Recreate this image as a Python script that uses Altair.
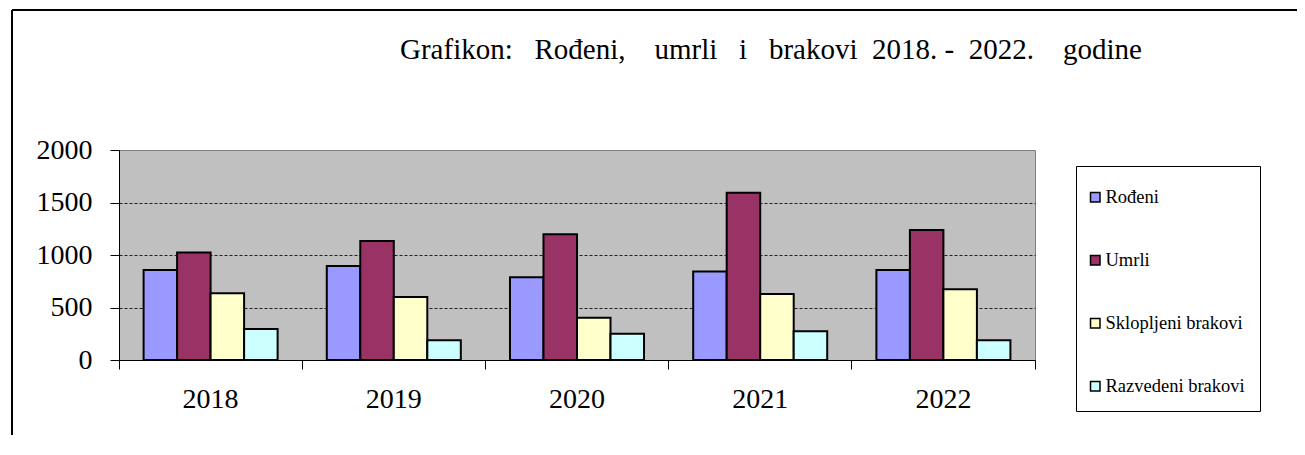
import altair as alt
import pandas as pd

years = ["2018", "2019", "2020", "2021", "2022"]
series = ["Rođeni", "Umrli", "Sklopljeni brakovi", "Razvedeni brakovi"]
rodeni = [857, 895, 787, 844, 857]
umrli = [1025, 1133, 1197, 1594, 1238]
sklopljeni = [635, 600, 403, 629, 673]
razvedeni = [295, 187, 251, 273, 187]
colors = ["#9999FF", "#993366", "#FFFFCC", "#CCFFFF"]
y_ticks = [0, 500, 1000, 1500, 2000]
words = ["Grafikon:", "Rođeni,", "umrli", "i", "brakovi", "2018.", "-", "2022.", "godine"]
gaps = [3, 4, 3, 3, 2, 1, 2, 4]
title_text = words[0] + "".join("\u00a0" * g + w for g, w in zip(gaps, words[1:]))

rows = []
for s, vals in zip(series, [rodeni, umrli, sklopljeni, razvedeni]):
    for y, v in zip(years, vals):
        rows.append({"Godina": y, "Serija": s, "Vrijednost": v})
df = pd.DataFrame(rows)

FONT = "Liberation Serif"

bars = alt.Chart(df).mark_bar(stroke="black", strokeWidth=2).encode(
    x=alt.X("Godina:N", sort=years,
            scale=alt.Scale(paddingInner=0, paddingOuter=0),
            axis=alt.Axis(title=None, labelAngle=0, bandPosition=1, tickExtra=True,
                          tickSize=9, labelPadding=16,
                          labelFont=FONT, labelFontSize=28, labelColor="black",
                          tickColor="black", domainColor="black", grid=False)),
    xOffset=alt.XOffset("Serija:N", sort=series,
                        scale=alt.Scale(paddingInner=0, paddingOuter=0.734)),
    y=alt.Y("Vrijednost:Q", scale=alt.Scale(domain=[0, 2000], nice=False),
            axis=alt.Axis(title=None, values=y_ticks, format="d", tickSize=9, labelPadding=18,
                          labelFont=FONT, labelFontSize=28, labelColor="black",
                          tickColor="black", domainColor="black",
                          gridColor="#222222", gridDash=[3, 2], gridWidth=1,
                          gridOpacity={"condition": {"test": "datum.value >= 2000 || datum.value <= 0", "value": 0}, "value": 1})),
    color=alt.Color("Serija:N", sort=series,
                    scale=alt.Scale(domain=series, range=colors),
                    legend=alt.Legend(title=" ", titleFontSize=4, titlePadding=3,
                                      orient="none", legendX=957, legendY=16,
                                      direction="vertical",
                                      strokeColor="black", fillColor="white", padding=15,
                                      rowPadding=44, symbolType="square", symbolSize=90,
                                      symbolStrokeColor="black", symbolStrokeWidth=1.5,
                                      symbolOffset=-5,
                                      symbolOpacity=1, labelOffset=1,
                                      labelFont=FONT, labelFontSize=18.5, labelColor="black")),
)

frame = alt.Chart(alt.Data(values=[{}])).mark_rule(color="black", strokeWidth=2).encode(
    x=alt.value(-107), x2=alt.value(1200), y=alt.value(-140)
)
frame_left = alt.Chart(alt.Data(values=[{}])).mark_rule(color="black", strokeWidth=2).encode(
    x=alt.value(-107), y=alt.value(-140), y2=alt.value(320)
)

chart = alt.layer(bars, frame, frame_left).properties(
    width=916, height=210,
    autosize=alt.AutoSizeParams(type="none"),
    padding={"left": 111, "top": 142, "right": 262, "bottom": 75},
    title=alt.TitleParams(title_text, anchor="start", frame="group", dx=281,
                          font=FONT, fontSize=29, fontWeight="normal", color="black",
                          baseline="alphabetic", offset=-79),
).configure(
    background="white", font=FONT
).configure_view(
    fill="#C0C0C0", stroke="#808080", strokeWidth=1
).configure_axis(
    labelFont=FONT
).configure_legend(
    labelFont=FONT
)

chart.save("out.html", embed_options={"renderer": "svg", "actions": False})
